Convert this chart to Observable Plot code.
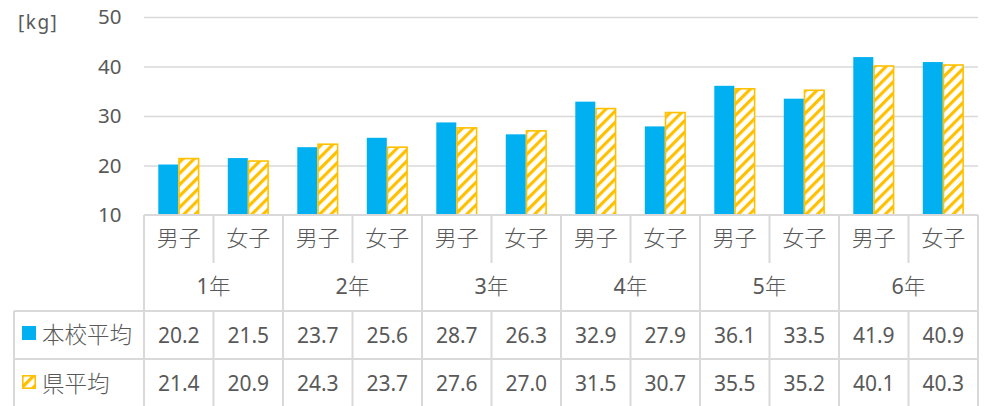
<!DOCTYPE html>
<html><head><meta charset="utf-8">
<script src="https://cdn.jsdelivr.net/npm/d3@7"></script>
<script src="https://cdn.jsdelivr.net/npm/@observablehq/plot@0.6"></script>
<style>
html,body{margin:0;padding:0;background:#fff;}
svg{font-family:"Noto Sans","Noto Sans CJK JP",sans-serif;}
</style></head><body><div id="chart"></div>
<script>
// ---- data ----
const grades = ["1年","2年","3年","4年","5年","6年"];
const genders = ["男子","女子"];
const seriesNames = ["本校平均","県平均"];
const schoolAvg = [20.2,21.5,23.7,25.6,28.7,26.3,32.9,27.9,36.1,33.5,41.9,40.9];
const prefAvg   = [21.4,20.9,24.3,23.7,27.6,27.0,31.5,30.7,35.5,35.2,40.1,40.3];
const yTicks = [10,20,30,40,50];
const unitLabel = "[kg]";

// ---- derived ----
const cats = grades.flatMap(g => genders.map(s => ({grade:g, gender:s, key:g+"|"+s})));
const keys = cats.map(c => c.key);
const rows = cats.map((c,i) => ({...c, school:schoolAvg[i], pref:prefAvg[i]}));

const BLUE = "#00B0F0", YELLOW = "#FFC000", LINE = "#d9d9d9", TEXT = "#595959";
const FONT = '"Noto Sans","Noto Sans CJK JP",sans-serif';
const yMin = yTicks[0];

const chart = Plot.plot({
  width: 984, height: 406,
  marginLeft: 144, marginRight: 6, marginTop: 17, marginBottom: 191,
  style: {color: TEXT, background: "#fff", fontFamily: FONT},
  x: {domain: keys, padding: 0, round: false, axis: null},
  y: {domain: [yTicks[0], yTicks[yTicks.length-1]], axis: null},
  marks: [
    Plot.gridY(yTicks.slice(1), {stroke: LINE, strokeOpacity: 1, strokeWidth: 1.5}),
    Plot.axisY(yTicks, {tickSize: 0, tickPadding: 23, fontSize: 20.5, fill: TEXT}),
    Plot.barY(rows, {x: "key", y1: yMin, y2: "school", fill: BLUE, insetLeft: 14.3, insetRight: 35.2}),
    Plot.barY(rows, {x: "key", y1: yMin, y2: "pref", fill: "url(#hatch)", stroke: YELLOW, strokeWidth: 1.6, insetLeft: 35.0, insetRight: 14.9})
  ]
});

const svg = d3.select(chart);
// hatch pattern
const defs = svg.insert("defs", ":first-child");
const pat = defs.append("pattern").attr("id","hatch").attr("patternUnits","userSpaceOnUse")
  .attr("width",8).attr("height",8).attr("patternTransform","rotate(45)");
pat.append("rect").attr("width",8).attr("height",8).attr("fill","#fff");
pat.append("rect").attr("x",0).attr("y",0).attr("width",3.2).attr("height",8).attr("fill",YELLOW);

// table using Plot's scales
const sx = chart.scale("x");
const sy = chart.scale("y");
const X = v => sx.apply(v);
const bw = sx.bandwidth;
const xLeft = X(keys[0]);
const xRight = X(keys[keys.length-1]) + bw;
const tTop = sy.apply(yMin);
const rowH = 48;
const r1 = tTop + rowH, r2 = tTop + 2*rowH, r3 = tTop + 3*rowH, r4 = tTop + 4*rowH + 2;
const tableLeft = 14;

const g = svg.append("g").attr("stroke", LINE).attr("stroke-width", 2).attr("fill","none");
const line = (x1,y1,x2,y2) => g.append("line").attr("x1",x1).attr("y1",y1).attr("x2",x2).attr("y2",y2);
line(xLeft, tTop, xRight, tTop);
line(tableLeft, r2, xRight, r2);
line(tableLeft, r3, xRight, r3);
line(tableLeft, r2, tableLeft, r4);
cats.forEach((c,i) => {
  const x = X(c.key);
  if (c.gender === genders[0]) line(x, tTop, x, r4);
  else { line(x, tTop, x, r1); line(x, r2, x, r4); }
});
line(xRight, tTop, xRight, r4);

const t = svg.append("g").attr("fill", TEXT).attr("font-family", FONT);
const txt = (x,y,s,size,anchor,weight) => t.append("text").attr("x",x).attr("y",y).attr("dy","0.36em")
  .attr("font-size", size).attr("font-weight", weight || 400).attr("text-anchor", anchor || "middle").text(s);
cats.forEach((c,i) => {
  const cx = X(c.key) + bw/2;
  txt(cx, tTop + rowH/2 - 1, c.gender, 22, "middle", 300);
  txt(cx, r2 + rowH/2, schoolAvg[i].toFixed(1), 21);
  txt(cx, r3 + rowH/2, prefAvg[i].toFixed(1), 21);
});
grades.forEach(gr => {
  const cx = X(gr+"|"+genders[0]) + bw;
  const el = t.append("text").attr("x",cx).attr("y",r1 + rowH/2 - 1).attr("dy","0.36em")
    .attr("font-size",21.5).attr("text-anchor","middle");
  el.append("tspan").attr("font-weight",400).text(gr.slice(0,-1));
  el.append("tspan").attr("font-weight",300).text(gr.slice(-1));
});
// legend keys
const keyX = 22, keyS = 14;
svg.append("rect").attr("x",keyX).attr("y",r2+rowH/2-keyS/2-2).attr("width",keyS).attr("height",keyS).attr("fill",BLUE);
svg.append("rect").attr("x",keyX+0.8).attr("y",r3+rowH/2-keyS/2-0.2).attr("width",keyS-1.6).attr("height",keyS-1.6)
  .attr("fill","url(#hatch)").attr("stroke",YELLOW).attr("stroke-width",1.6);
txt(42, r2 + rowH/2, seriesNames[0], 22.5, "start", 300);
txt(42, r3 + rowH/2 + 1, seriesNames[1], 22.5, "start", 300);
// unit label
t.append("text").attr("x",18).attr("y",22).attr("dy","0.36em").attr("font-size",19)
  .attr("letter-spacing", 1.5).attr("text-anchor","start").text(unitLabel);

document.getElementById("chart").appendChild(chart);
</script></body></html>
